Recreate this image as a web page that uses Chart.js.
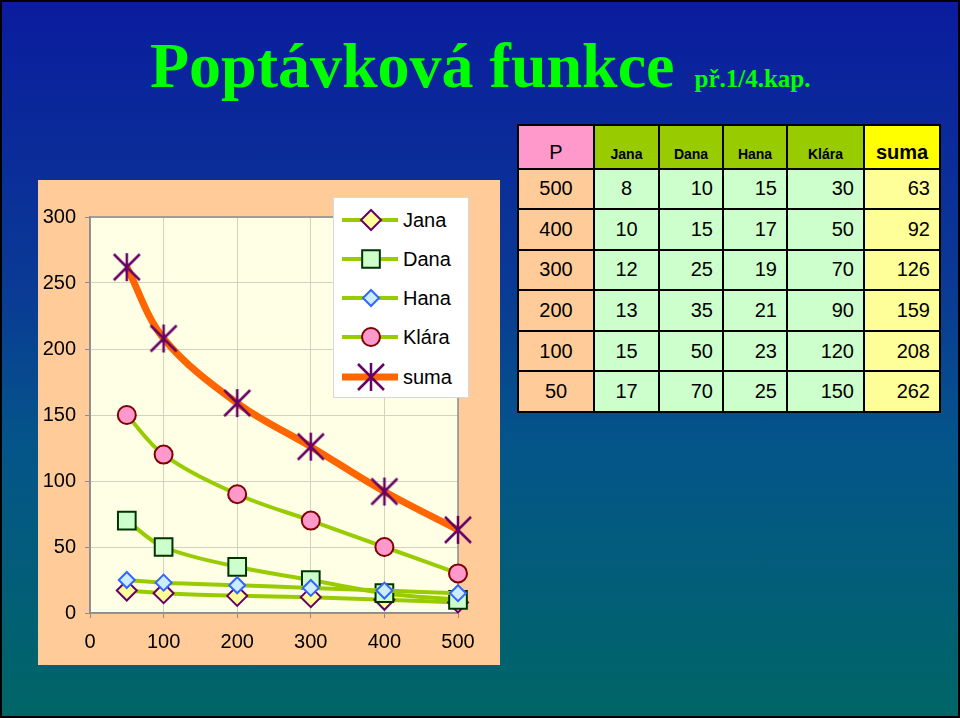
<!DOCTYPE html>
<html><head><meta charset="utf-8">
<script src="https://cdn.jsdelivr.net/npm/chart.js@4.4.1/dist/chart.umd.min.js"></script>
<style>
html,body{margin:0;padding:0;}
body{width:960px;height:718px;position:relative;overflow:hidden;
 background:linear-gradient(to bottom,#0b1c9e 0%,#0a3a95 40%,#04558a 62%,#006666 100%);
 font-family:"Liberation Sans",Arial,sans-serif;}
#frame{position:absolute;left:0;top:0;width:956px;height:714px;border:2px solid #000;pointer-events:none;}
#title{position:absolute;left:150px;top:34px;font-family:"Liberation Serif","Times New Roman",serif;font-weight:bold;color:#00ff00;font-size:64px;line-height:64px;white-space:nowrap;}
#title span{font-size:25px;margin-left:20px;}
#box{position:absolute;left:38px;top:180px;width:462px;height:485px;background:#ffcc99;}
#legend{position:absolute;left:333px;top:197px;width:134px;height:199px;background:#fff;border:1px solid #d8d8d8;}
.lrow{position:absolute;left:0;height:36px;width:134px;}
.lrow canvas{position:absolute;left:0;top:0;}
.lrow span{position:absolute;left:69px;top:6px;font-size:20px;line-height:24px;color:#000;}
#tbl{position:absolute;left:517px;top:124px;border-collapse:collapse;}
#tbl td{border:2px solid #000;padding:0;font-size:20px;color:#000;}
#tbl tr.h td{height:37.5px;vertical-align:bottom;padding-bottom:4px;text-align:center;}
#tbl tr.h td.n{font-weight:bold;font-size:14px;height:35.5px;padding-bottom:6px;background:#99cc00;}
#tbl tr.h td.p{background:#ff99cc;}
#tbl tr.h td.s{background:#ffff00;font-weight:bold;}
#tbl tr.b td{height:38.6px;vertical-align:middle;}
#tbl tr.b td.p{background:#ffcc99;text-align:center;}
#tbl tr.b td.n{background:#ccffcc;text-align:right;padding-right:9px;}
#tbl tr.b td.c{text-align:center;padding-right:0;}
#tbl tr.b td.s{background:#ffff99;text-align:right;padding-right:9px;}
</style></head>
<body>
<div id="title">Poptávková funkce<span>př.1/4.kap.</span></div>
<div id="box"><canvas id="c" width="462" height="485"></canvas></div>
<div id="legend"></div>
<table id="tbl"></table>
<div id="frame"></div>
<script>
// ---- data ----
const prices = [500, 400, 300, 200, 100, 50];
const jana  = [8, 10, 12, 13, 15, 17];
const dana  = [10, 15, 25, 35, 50, 70];
const hana  = [15, 17, 19, 21, 23, 25];
const klara = [30, 50, 70, 90, 120, 150];
const suma  = [63, 92, 126, 159, 208, 262];
const seriesNames = ['Jana', 'Dana', 'Hana', 'Klára', 'suma'];
const priceLabel = 'P';
const xTicks = [0, 100, 200, 300, 400, 500];
const yTicks = [0, 50, 100, 150, 200, 250, 300];

const seriesValues = [jana, dana, hana, klara, suma];

// ---- marker styles ----
function makeStar(){
  const cv = document.createElement('canvas');
  cv.width = 32; cv.height = 32;
  const g = cv.getContext('2d');
  g.strokeStyle = '#660066'; g.lineWidth = 2.5; g.lineCap = 'butt';
  const c = 16, r = 13;
  g.beginPath();
  g.moveTo(c-r, c-r); g.lineTo(c+r, c+r);
  g.moveTo(c+r, c-r); g.lineTo(c-r, c+r);
  g.moveTo(c, c-r-1); g.lineTo(c, c+r+1);
  g.stroke();
  return cv;
}
const star = makeStar();
const styles = [
  {line:'#99cc00', lw:4, ps:'rectRot', r:10, fill:'#ffff99', stroke:'#660066', bw:2},
  {line:'#99cc00', lw:4, ps:'rect', r:12.5, fill:'#ccffcc', stroke:'#003300', bw:2},
  {line:'#99cc00', lw:4, ps:'rectRot', r:8, fill:'#ccecff', stroke:'#3366ff', bw:2},
  {line:'#99cc00', lw:4, ps:'circle', r:9, fill:'#ff99cc', stroke:'#800000', bw:2},
  {line:'#ff6600', lw:7, ps:star, r:14, fill:'#660066', stroke:'#660066', bw:2}
];

const datasets = seriesValues.map((vals, i) => ({
  label: seriesNames[i],
  data: prices.map((p, j) => ({x: p, y: vals[j]})),
  borderColor: styles[i].line,
  borderWidth: styles[i].lw,
  backgroundColor: styles[i].fill,
  pointStyle: styles[i].ps,
  pointRadius: styles[i].r,
  pointHoverRadius: styles[i].r,
  pointBackgroundColor: styles[i].fill,
  pointBorderColor: styles[i].stroke,
  pointBorderWidth: styles[i].bw,
  tension: 0.35,
  fill: false,
  clip: false,
  order: 5 - i
}));

const plotBg = {
  id: 'plotBg',
  beforeDraw(chart){
    const {ctx, chartArea:a} = chart;
    ctx.save();
    ctx.fillStyle = '#ffffe6';
    ctx.fillRect(a.left, a.top, a.right - a.left, a.bottom - a.top);
    ctx.restore();
  },
  beforeDatasetsDraw(chart){
    const {ctx, chartArea:a} = chart;
    ctx.save();
    ctx.strokeStyle = '#8c8c8c';
    ctx.lineWidth = 1.5;
    ctx.strokeRect(a.left, a.top, a.right - a.left, a.bottom - a.top);
    ctx.restore();
  }
};

Chart.defaults.font.family = '"Liberation Sans", Arial, sans-serif';
new Chart(document.getElementById('c'), {
  type: 'line',
  data: {datasets},
  options: {
    responsive: false,
    animation: false,
    events: [],
    layout: {padding: {top: 37, right: 42, left: 0, bottom: 0}},
    plugins: {legend: {display: false}, tooltip: {enabled: false}},
    scales: {
      x: {
        type: 'linear', min: xTicks[0], max: xTicks[xTicks.length-1],
        afterBuildTicks: s => { s.ticks = xTicks.map(v => ({value: v})); },
        afterFit: s => { s.height = 52; },
        ticks: {color: '#000', font: {size: 20}, padding: 12, maxRotation: 0},
        grid: {color: '#d2d2c0', lineWidth: 1, tickLength: 5, tickColor: '#8c8c8c'},
        border: {color: '#8c8c8c', width: 1.5}
      },
      y: {
        type: 'linear', min: yTicks[0], max: yTicks[yTicks.length-1],
        afterBuildTicks: s => { s.ticks = yTicks.map(v => ({value: v})); },
        afterFit: s => { s.width = 52; },
        ticks: {color: '#000', font: {size: 20}, padding: 9},
        grid: {color: '#d2d2c0', lineWidth: 1, tickLength: 5, tickColor: '#8c8c8c'},
        border: {color: '#8c8c8c', width: 1.5}
      }
    }
  },
  plugins: [plotBg]
});

// ---- legend ----
function drawMarker(g, st, x, y){
  g.save();
  g.fillStyle = st.fill; g.strokeStyle = st.stroke; g.lineWidth = st.bw;
  if (st.ps instanceof HTMLCanvasElement){
    g.drawImage(st.ps, x - st.ps.width/2, y - st.ps.height/2);
  } else if (st.ps === 'circle'){
    g.beginPath(); g.arc(x, y, st.r, 0, Math.PI*2); g.fill(); g.stroke();
  } else if (st.ps === 'rect'){
    const h = st.r * Math.SQRT1_2;
    g.beginPath(); g.rect(x-h, y-h, 2*h, 2*h); g.fill(); g.stroke();
  } else {
    g.beginPath(); g.moveTo(x, y-st.r); g.lineTo(x+st.r, y); g.lineTo(x, y+st.r); g.lineTo(x-st.r, y); g.closePath(); g.fill(); g.stroke();
  }
  g.restore();
}
const leg = document.getElementById('legend');
const rowCenters = [22, 61, 100, 139, 179];
seriesNames.forEach((n, i) => {
  const row = document.createElement('div');
  row.className = 'lrow';
  row.style.top = (rowCenters[i] - 18) + 'px';
  const cv = document.createElement('canvas');
  cv.width = 68; cv.height = 36;
  const g = cv.getContext('2d');
  g.strokeStyle = styles[i].line; g.lineWidth = styles[i].lw;
  g.beginPath(); g.moveTo(8, 18); g.lineTo(64, 18); g.stroke();
  drawMarker(g, styles[i], 37, 18);
  const sp = document.createElement('span');
  sp.textContent = n;
  row.appendChild(cv); row.appendChild(sp);
  leg.appendChild(row);
});

// ---- table ----
const tbl = document.getElementById('tbl');
const widths = [76, 65, 64, 64, 77, 76];
let html = '<tr class="h"><td class="p" style="width:' + (widths[0]-2) + 'px">' + priceLabel + '</td>';
seriesNames.forEach((n, i) => {
  const cls = i === seriesNames.length - 1 ? 's' : 'n';
  html += '<td class="' + cls + '" style="width:' + (widths[i+1]-2) + 'px">' + n + '</td>';
});
html += '</tr>';
prices.forEach((p, j) => {
  html += '<tr class="b"><td class="p">' + p + '</td>';
  seriesValues.forEach((vals, i) => {
    let cls = i === seriesValues.length - 1 ? 's' : 'n';
    if (i === 0) cls += ' c';
    html += '<td class="' + cls + '">' + vals[j] + '</td>';
  });
  html += '</tr>';
});
tbl.innerHTML = html;
</script>
</body></html>
